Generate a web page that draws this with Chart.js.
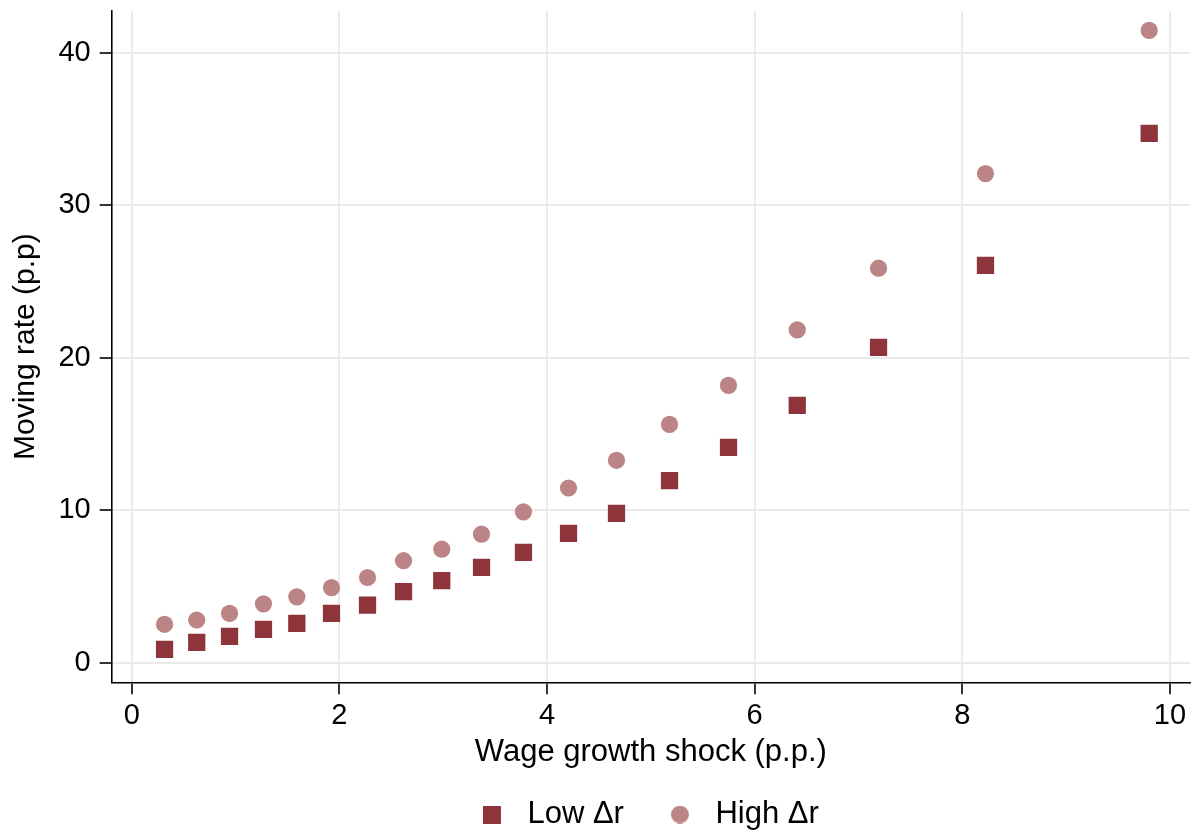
<!DOCTYPE html>
<html>
<head>
<meta charset="utf-8">
<script src="https://cdn.jsdelivr.net/npm/chart.js@4.4.1/dist/chart.umd.min.js"></script>
<style>
  html, body { margin: 0; padding: 0; background: #ffffff; }
  #wrap { width: 1193px; height: 836px; }
</style>
</head>
<body>
<div id="wrap"><canvas id="c" width="1193" height="836"></canvas></div>
<script>
// Wage growth shock bins (p.p.) and the moving rate in each bin (p.p.)
const shock  = [0.316, 0.626, 0.942, 1.269, 1.590, 1.924, 2.271, 2.618, 2.986, 3.369,
                3.773, 4.207, 4.669, 5.180, 5.748, 6.410, 7.193, 8.223, 9.800];
const lowDr  = [0.88, 1.33, 1.73, 2.19, 2.58, 3.24, 3.77, 4.67, 5.39, 6.25,
                7.23, 8.48, 9.79, 11.95, 14.12, 16.88, 20.68, 26.06, 34.72];
const highDr = [2.52, 2.80, 3.24, 3.86, 4.32, 4.93, 5.59, 6.69, 7.45, 8.43,
                9.90, 11.46, 13.28, 15.63, 18.19, 21.83, 25.88, 32.09, 41.48];
const seriesNames = ['Low Δr', 'High Δr'];
const xTicks = [0, 2, 4, 6, 8, 10];
const yTicks = [0, 10, 20, 30, 40];

const lowColor  = '#8E343B';
const highColor = '#BD8485';
const FONT = "'Liberation Sans', Arial, Helvetica, sans-serif";

const pairs = ys => shock.map((x, i) => ({ x: x, y: ys[i] }));

// Small legend swatches: marker sits on the left of a wider box
const SWATCH_W = 29;
function swatch(kind, color) {
  const cv = document.createElement('canvas');
  cv.width = SWATCH_W; cv.height = 18;
  const g = cv.getContext('2d');
  g.fillStyle = color;
  if (kind === 'rect') {
    g.fillRect(0, 0, 18, 18);
  } else {
    g.beginPath(); g.arc(9, 9, 9, 0, Math.PI * 2); g.fill();
  }
  return cv;
}
const legendIcons = [swatch('rect', lowColor), swatch('circle', highColor)];

// Keep the plot frame fixed: no extra room reserved for overhanging tick labels
const zeroPad = { left: 0, top: 0, right: 0, bottom: 0 };
function noLabelPadding(s) {
  s.paddingTop = 0; s.paddingBottom = 0; s.paddingLeft = 0; s.paddingRight = 0;
  s.getPadding = () => zeroPad;
}

new Chart(document.getElementById('c'), {
  type: 'scatter',
  data: {
    datasets: [
      { label: seriesNames[0], data: pairs(lowDr), pointStyle: 'rect', pointRadius: 12.2,
        pointHoverRadius: 12.2, backgroundColor: lowColor, borderWidth: 0 },
      { label: seriesNames[1], data: pairs(highDr), pointStyle: 'circle', pointRadius: 8.6,
        pointHoverRadius: 8.6, backgroundColor: highColor, borderWidth: 0 }
    ]
  },
  options: {
    responsive: false,
    animation: false,
    devicePixelRatio: 1,
    layout: { autoPadding: false, padding: { top: 11, right: 3, bottom: 0, left: 0 } },
    plugins: {
      tooltip: { enabled: false },
      legend: {
        position: 'bottom',
        fullSize: false,
        maxHeight: 84,
        labels: {
          usePointStyle: true,
          pointStyleWidth: SWATCH_W,
          padding: 47,
          color: '#000000',
          font: { family: FONT, size: 31, lineHeight: 1 },
          generateLabels: chart => chart.data.datasets.map((ds, i) => ({
            text: ds.label, pointStyle: legendIcons[i], fillStyle: ds.backgroundColor,
            strokeStyle: ds.backgroundColor, lineWidth: 0, hidden: false,
            datasetIndex: i, fontColor: '#000000'
          }))
        }
      }
    },
    scales: {
      x: {
        type: 'linear',
        min: -0.193, max: 10.193,
        afterBuildTicks: s => { s.ticks = xTicks.map(v => ({ value: v })); },
        afterFit: s => { s.height = 69.7; noLabelPadding(s); },
        grid: { color: '#EAEAEA', lineWidth: 2, tickColor: '#000000', tickWidth: 1.6, tickLength: 12, drawTicks: true },
        border: { display: true, color: '#000000', width: 1.6 },
        ticks: { color: '#000000', padding: 7, maxRotation: 0,
                 font: { family: FONT, size: 29, lineHeight: 1 } },
        title: { display: true, text: 'Wage growth shock (p.p.)', color: '#000000',
                 padding: { top: 0, bottom: -15.5 },
                 font: { family: FONT, size: 31, lineHeight: 1 } }
      },
      y: {
        type: 'linear',
        min: -1.286, max: 42.755,
        afterBuildTicks: s => { s.ticks = yTicks.map(v => ({ value: v })); },
        afterFit: s => { s.width = 111.7; noLabelPadding(s); },
        grid: { color: '#EAEAEA', lineWidth: 2, tickColor: '#000000', tickWidth: 1.6, tickLength: 12, drawTicks: true },
        border: { display: true, color: '#000000', width: 1.6 },
        ticks: { color: '#000000', padding: 9,
                 font: { family: FONT, size: 29, lineHeight: 1 } },
        title: { display: true, text: 'Moving rate (p.p)', color: '#000000',
                 padding: { top: 11, bottom: 0 },
                 font: { family: FONT, size: 30, lineHeight: 1 } }
      }
    }
  }
});
</script>
</body>
</html>
